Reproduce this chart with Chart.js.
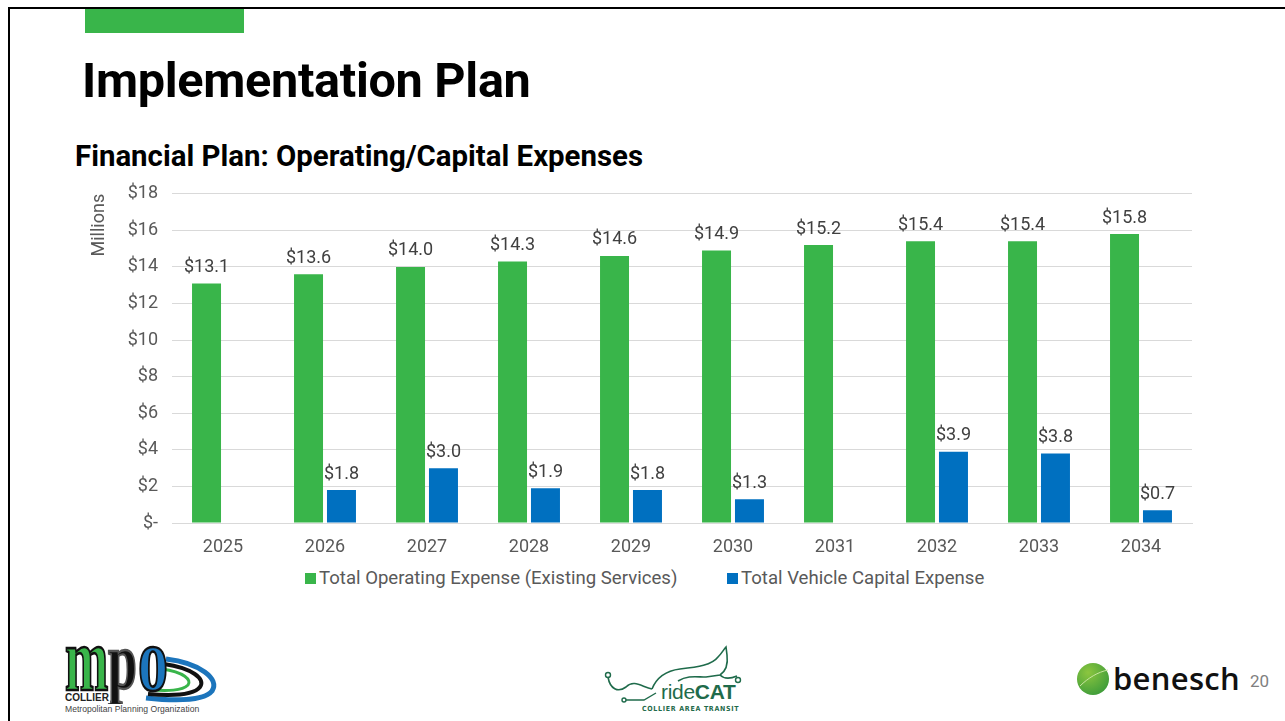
<!DOCTYPE html>
<html>
<head>
<meta charset="utf-8">
<script src="https://cdn.jsdelivr.net/npm/chart.js@4.4.1/dist/chart.umd.min.js"></script>
<style>
  html, body { margin: 0; padding: 0; background: #fff; }
  body { width: 1285px; height: 721px; position: relative; overflow: hidden; font-family: Roboto, "Noto Sans", sans-serif; }
  .border-top { position: absolute; left: 8px; top: 7px; width: 1285px; height: 2px; background: #000; }
  .border-left { position: absolute; left: 8px; top: 7px; width: 2px; height: 721px; background: #000; }
  .accent { position: absolute; left: 85px; top: 9px; width: 159px; height: 24px; background: #39B54A; }
  h1 { position: absolute; left: 82px; top: 52px; margin: 0; font: 700 48.6px Roboto, sans-serif; color: #000; letter-spacing: -0.3px; }
  h2 { position: absolute; left: 75px; top: 139px; margin: 0; font: 700 29.4px Roboto, sans-serif; color: #000; }
  #wrap { position: absolute; left: 85px; top: 169px; width: 1110px; height: 391px; }
  #legend { position: absolute; top: 566px; left: 0; width: 1285px; height: 24px; font: 400 18.6px Roboto, sans-serif; color: #595959; }
  #legend .item { position: absolute; top: 0; white-space: nowrap; line-height: 24px; }
  #legend .box { display: inline-block; width: 11px; height: 11px; margin-right: 3px; vertical-align: 0px; }
  .pagenum { position: absolute; left: 1250px; top: 671px; font: 400 17px Roboto, sans-serif; color: #7f7f7f; }
  .benesch { position: absolute; left: 1113px; top: 657px; font: 600 31px "Open Sans", Lato, sans-serif; color: #111; letter-spacing: 0.3px; }
  .mpo-collier { position: absolute; left: 65px; top: 692px; font: 700 10px "Liberation Sans", sans-serif; color: #222; background: #fff; padding-right: 1px; }
  .mpo-sub { position: absolute; left: 65px; top: 704px; font: 400 8.6px "Liberation Sans", sans-serif; color: #444; white-space: nowrap; background: #fff; }
  .ride { position: absolute; left: 661px; top: 680px; font: 700 21px "Liberation Sans Narrow", "Liberation Sans", sans-serif; color: #1F6B4B; letter-spacing: -0.3px; }
  .ride .r { font-weight: 400; }
  .cat-sub { position: absolute; left: 642px; top: 705px; font: 700 7px "DejaVu Sans Condensed", sans-serif; color: #1F6B4B; letter-spacing: 0.7px; white-space: nowrap; }
</style>
</head>
<body>
<div class="border-top"></div>
<div class="border-left"></div>
<div class="accent"></div>
<h1>Implementation Plan</h1>
<h2>Financial Plan: Operating/Capital Expenses</h2>
<div id="wrap"><canvas id="c" width="1110" height="391"></canvas></div>
<div id="legend"></div>

<!-- MPO logo -->
<svg style="position:absolute;left:50px;top:635px" width="180" height="85" viewBox="0 0 180 85">
  <path d="M116 24 C150 28, 170 44, 162 56 C154 66, 124 66, 96 63" fill="none" stroke="#1c75bc" stroke-width="5"/>
  <path d="M114 29 C142 33, 156 44, 150 52 C144 60, 122 61, 98 59" fill="none" stroke="#111" stroke-width="4"/>
  <path d="M112 34 C134 37, 142 45, 138 50 C132 56, 118 56, 100 55" fill="none" stroke="#39B54A" stroke-width="3"/>
  <g font-family="Liberation Serif, serif" font-weight="700" font-size="40" stroke-width="1.2">
    <text transform="translate(15,55) scale(1.3,2.28)" fill="#39B54A" stroke="#111">m</text>
    <text transform="translate(58,53) scale(1.3,2.0)" fill="#111" stroke="#555">p</text>
    <text transform="translate(88,55) scale(1.5,2.28)" fill="#1c75bc" stroke="#111">o</text>
  </g>
</svg>
<div class="mpo-collier">COLLIER</div>
<div class="mpo-sub">Metropolitan Planning Organization</div>

<!-- rideCAT logo -->
<svg style="position:absolute;left:600px;top:645px" width="150" height="62" viewBox="0 0 150 62">
  <path d="M52 44 C56 34, 64 26, 80 24 C98 22, 112 20, 118 12 C122 8, 124 4, 126 2 L127 10 C128 18, 126 26, 120 30 L106 32 C96 32, 88 30, 78 36" fill="none" stroke="#1F6B4B" stroke-width="1.6"/>
  <path d="M120 30 C124 34, 130 34, 137 31" fill="none" stroke="#1F6B4B" stroke-width="1.6"/>
  <path d="M8 32 C10 44, 18 48, 26 42 C34 34, 42 42, 52 44" fill="none" stroke="#1F6B4B" stroke-width="1.6"/>
  <circle cx="8" cy="30" r="2.5" fill="none" stroke="#1F6B4B" stroke-width="1.4"/>
  <circle cx="138" cy="35" r="2.5" fill="none" stroke="#1F6B4B" stroke-width="1.4"/>
  <path d="M26 55 L44 55 L56 48" fill="none" stroke="#1F6B4B" stroke-width="1.4"/>
  <circle cx="24" cy="55" r="2" fill="none" stroke="#1F6B4B" stroke-width="1.4"/>
</svg>
<div class="ride"><span class="r">ride</span>CAT</div>
<div class="cat-sub">COLLIER AREA TRANSIT</div>

<!-- benesch logo -->
<svg style="position:absolute;left:1076px;top:662px" width="34" height="34" viewBox="0 0 34 34">
  <defs><radialGradient id="g" cx="0.35" cy="0.3" r="0.8"><stop offset="0" stop-color="#8cc63f"/><stop offset="1" stop-color="#3a9a3a"/></radialGradient></defs>
  <circle cx="17" cy="17" r="16" fill="url(#g)"/>
  <path d="M4 24 C12 16, 22 10, 32 8" stroke="#c8e6a0" stroke-width="1" fill="none"/>
</svg>
<div class="benesch">benesch</div>
<div class="pagenum">20</div>

<script>
const categories = ['2025','2026','2027','2028','2029','2030','2031','2032','2033','2034'];
const operatingExpense = [13.1, 13.6, 14.0, 14.3, 14.6, 14.9, 15.2, 15.4, 15.4, 15.8];
const vehicleCapitalExpense = [null, 1.8, 3.0, 1.9, 1.8, 1.3, null, 3.9, 3.8, 0.7];
const seriesNames = ['Total Operating Expense (Existing Services)', 'Total Vehicle Capital Expense'];
const seriesColors = ['#39B54A', '#0070C0'];
const yTickValues = [0, 2, 4, 6, 8, 10, 12, 14, 16, 18];
const yAxisTitle = 'Millions';

const fmtTick = v => v === 0 ? '$-' : '$' + v;
const fmtLabel = v => '$' + v.toFixed(1);

// HTML legend built from the series names/colours
const legendLefts = [305, 727];
const legendEl = document.getElementById('legend');
seriesNames.forEach((name, i) => {
  const item = document.createElement('div');
  item.className = 'item';
  item.style.left = legendLefts[i] + 'px';
  const box = document.createElement('span');
  box.className = 'box';
  box.style.background = seriesColors[i];
  item.appendChild(box);
  item.appendChild(document.createTextNode(name));
  legendEl.appendChild(item);
});

const dataLabels = {
  id: 'dataLabels',
  afterDatasetsDraw(chart) {
    const ctx = chart.ctx;
    ctx.save();
    ctx.font = '400 18px Roboto, sans-serif';
    ctx.fillStyle = '#404040';
    ctx.textAlign = 'center';
    ctx.textBaseline = 'bottom';
    chart.data.datasets.forEach((ds, i) => {
      const meta = chart.getDatasetMeta(i);
      meta.data.forEach((bar, j) => {
        const v = ds.data[j];
        if (v === null || v === undefined) return;
        ctx.fillText(fmtLabel(v), bar.x, bar.y - 7);
      });
    });
    ctx.restore();
  }
};

new Chart(document.getElementById('c'), {
  type: 'bar',
  data: {
    labels: categories,
    datasets: [
      { label: seriesNames[0], data: operatingExpense, backgroundColor: seriesColors[0], borderWidth: 0,
        categoryPercentage: 0.646, barPercentage: 0.88 },
      { label: seriesNames[1], data: vehicleCapitalExpense, backgroundColor: seriesColors[1], borderWidth: 0,
        categoryPercentage: 0.646, barPercentage: 0.88 }
    ]
  },
  options: {
    responsive: false,
    animation: false,
    layout: { padding: { top: 1, right: 3, left: 0, bottom: 0 } },
    plugins: {
      legend: { display: false },
      tooltip: { enabled: false }
    },
    scales: {
      x: {
        afterFit(axis) { axis.height = 37; },
        grid: { display: false, drawTicks: false },
        border: { color: '#d9d9d9', width: 1 },
        ticks: { color: '#595959', font: { family: 'Roboto', size: 18 }, padding: 14 }
      },
      y: {
        min: 0, max: 18,
        afterBuildTicks(axis) { axis.ticks = yTickValues.map(v => ({ value: v })); },
        afterFit(axis) { axis.width = 87; },
        grid: { color: '#d9d9d9', drawTicks: false },
        border: { display: false },
        ticks: { color: '#595959', font: { family: 'Roboto', size: 18 }, padding: 14, callback: fmtTick },
        title: { display: true, text: yAxisTitle, align: 'end', color: '#595959', font: { family: 'Roboto', size: 18 }, padding: { top: 4, bottom: 0 } }
      }
    }
  },
  plugins: [dataLabels]
});
</script>
</body>
</html>
